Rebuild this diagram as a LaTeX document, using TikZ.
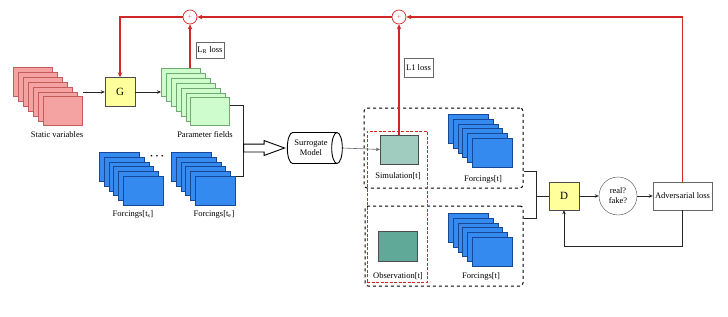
\documentclass[tikz,border=0pt]{standalone}
\usepackage{fontspec}
\setmainfont{Liberation Serif}
\usepackage{tikz}
\usetikzlibrary{arrows.meta}
\usetikzlibrary{positioning,fit,backgrounds}
\usetikzlibrary{shapes.geometric,shapes.arrows,calc}
\definecolor{statred}{RGB}{244,162,162}
\definecolor{statdraw}{RGB}{196,92,92}
\definecolor{pargreen}{RGB}{206,252,204}
\definecolor{pardraw}{RGB}{112,170,112}
\definecolor{forceblue}{RGB}{52,138,238}
\definecolor{forcedraw}{RGB}{22,72,150}
\definecolor{gyellow}{RGB}{255,255,156}
\definecolor{simteal}{RGB}{160,204,192}
\definecolor{obsteal}{RGB}{96,168,152}
\definecolor{lossred}{RGB}{208,40,40}

\begin{document}
\begin{tikzpicture}[x=1pt,y=-1pt,
    lbl/.style={font=\fontsize{8.5}{10}\selectfont},
    layer/.style={draw,line width=0.7pt,minimum width=39pt,minimum height=29pt,
                  anchor=north west,inner sep=0pt},
    conn/.style={draw=black!85,line width=0.8pt},
    tip/.style={-{Stealth[length=4pt,width=3.5pt]}},
    redtip/.style={-{Stealth[length=5pt,width=4.5pt]}},
    lossline/.style={draw=lossred,line width=1.2pt},
    yellowbox/.style={draw=black!70,fill=gyellow,minimum width=30pt,minimum height=29pt,
                      font=\fontsize{11}{12}\selectfont},
    plus/.style={circle,draw=lossred,line width=0.7pt,minimum size=14pt,inner sep=0pt,
                 text=lossred!60,font=\fontsize{8}{8}\selectfont}]
  \useasboundingbox (0,0) rectangle (728,316);

  \foreach \k in {0,...,6}
    \node[layer,draw=statdraw,fill=statred] (sv\k) at (13+\k*5,67+\k*4.9) {};
  \foreach \k in {0,...,6}
    \node[layer,draw=pardraw,fill=pargreen,minimum height=28pt] (pf\k) at (161+\k*4.9,68+\k*4.9) {};
  \foreach \nm/\x/\y in {fa/99/152,fb/171/152,fc/448/114,fd/448/213}{
    \foreach \k in {0,...,5}
      \node[layer,draw=forcedraw,fill=forceblue,minimum width=40pt] (\nm\k) at (\x+\k*4.8,\y+\k*4.8) {};
  }

  \node[lbl] (svlab) at (57,135) {Static variables};
  \node[lbl] (pflab) at (205,135) {Parameter fields};
  \node[lbl] (falab) at (133,214) {Forcings[t\textsubscript{s}]};
  \node[lbl] (fblab) at (214,214) {Forcings[t\textsubscript{e}]};
  \node[font=\scriptsize] (dots) at (157,157) {\textbullet\hspace{3pt}\textbullet\hspace{3pt}\textbullet};

  \node[yellowbox] (G) at (120,92) {G};
  \node[yellowbox,minimum height=28pt] (D) at (564,196) {D};

  \node[plus] (c1) at (190,17) {+};
  \node[plus] (c2) at (399,17) {+};
  \node[draw=black!60,lbl,minimum width=28pt,minimum height=16pt,inner sep=1pt] (lrloss) at (210,50) {L\textsubscript{R} loss};
  \node[draw=black!60,lbl,minimum width=29pt,minimum height=19pt,inner sep=1pt] (lone) at (418.5,67.5) {L1 loss};

  \node[cylinder,draw,line width=0.9pt,aspect=0.6,minimum width=31pt,minimum height=55pt,
        lbl,align=center,inner sep=1pt] (sur) at (311,148) {Surrogate\\Model};

  \node[draw,line width=1pt,dashed,rounded corners=3pt,minimum width=159pt,minimum height=80pt] (simgrp) at (443.5,148) {};
  \node[draw,line width=1pt,dashed,rounded corners=3pt,minimum width=158pt,minimum height=80pt] (obsgrp) at (444,246) {};
  \node[draw=lossred,dash pattern=on 3pt off 1.5pt,line width=1pt,minimum width=60pt,
        minimum height=151pt] (realgrp) at (397,206.5) {};

  \node[draw=black!70,fill=simteal,minimum width=38pt,minimum height=29pt,inner sep=0pt] (sim) at (399,149.5) {};
  \node[draw=black!70,fill=obsteal,minimum width=39pt,minimum height=30pt,inner sep=0pt] (obs) at (397.5,246) {};
  \node[lbl] (simlab) at (398,176) {Simulation[t]};
  \node[lbl] (obslab) at (398,276) {Observation[t]};
  \node[lbl] (fclab) at (483,179) {Forcings[t]};
  \node[lbl] (fdlab) at (481,276) {Forcings[t]};

  \node[circle,draw=black!70,minimum size=38pt,inner sep=0pt,lbl,align=center] (rf) at (618,196) {real?\\fake?};
  \node[draw=black!60,lbl,minimum width=59pt,minimum height=28pt,inner sep=0pt] (adv) at (682.5,196) {Adversarial loss};

  \draw[conn,tip] (sv6.east |- G.west) -- (G.west);
  \draw[conn,tip] (G.east) -- (G.east -| pf0.west);
  \draw[conn,line width=1pt] ([yshift=6pt]pf6.east) -- ++(13,0) coordinate (brk) |- (fb5.north east);
  \node[single arrow,draw,line width=0.9pt,fill=white,inner xsep=0pt,inner ysep=3.5pt,
        single arrow head extend=3.5pt,single arrow tip angle=40,minimum height=41pt,
        anchor=tail] (fat) at (brk |- sur.west) {};
  \draw[draw=black!60,line width=0.6pt,tip] (sur.east) -- (sim.west);

  \draw[lossline,redtip] (c1 |- pf0.north) -- (c1.south);
  \draw[lossline,redtip] (c2 |- sim.north) -- (c2.south);
  \draw[lossline,redtip] (adv.north) |- (c2.east);
  \draw[lossline,redtip] (c2.west) -- (c1.east);
  \draw[lossline,redtip] (c1.west) -| (G.north);

  \draw[conn,line width=1pt] ([yshift=17pt]simgrp.south east) -| ([xshift=-12pt]D.west)
    |- ([yshift=-13pt]obsgrp.north east);
  \draw[conn,line width=1pt] ([xshift=-12pt]D.west) -- (D.west);
  \draw[conn,tip] (D.east) -- (rf.west);
  \draw[conn,tip] (rf.east) -- (adv.west);
  \draw[conn,tip] (adv.south) -- ++(0,36) -| (D.south);
\end{tikzpicture}
\end{document}
